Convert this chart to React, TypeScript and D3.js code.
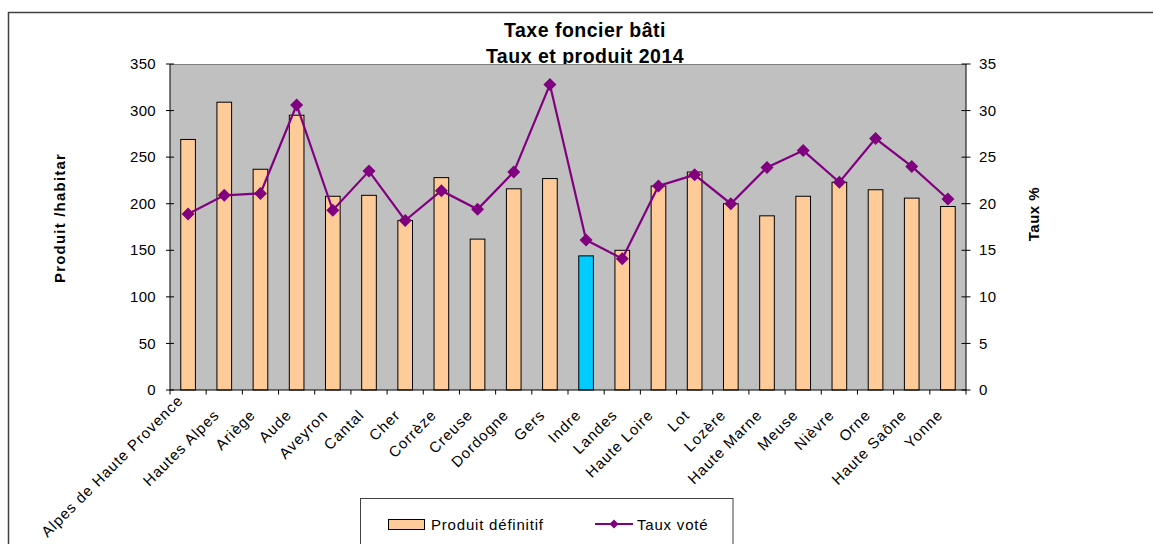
import React from "react";
import * as d3 from "d3";

const categories = [
  "Alpes de Haute Provence", "Hautes Alpes", "Ariège", "Aude", "Aveyron", "Cantal",
  "Cher", "Corrèze", "Creuse", "Dordogne", "Gers", "Indre", "Landes", "Haute Loire",
  "Lot", "Lozère", "Haute Marne", "Meuse", "Nièvre", "Orne", "Haute Saône", "Yonne",
];
const produitDefinitif = [269, 309, 237, 295, 208, 209, 182, 228, 162, 216, 227, 144, 150, 219, 234, 200, 187, 208, 223, 215, 206, 197];
const tauxVote = [18.9, 20.9, 21.1, 30.6, 19.3, 23.5, 18.2, 21.4, 19.4, 23.4, 32.8, 16.1, 14.1, 21.9, 23.1, 20.0, 23.9, 25.7, 22.3, 27.0, 24.0, 20.5];
const highlighted = "Indre";
const leftTicks = [0, 50, 100, 150, 200, 250, 300, 350];
const rightTicks = [0, 5, 10, 15, 20, 25, 30, 35];
const titleLines = ["Taxe foncier bâti", "Taux et produit 2014"];
const leftTitle = "Produit /habitar";
const rightTitle = "Taux %";
const seriesNames = ["Produit définitif", "Taux voté"];

const FONT = "'Liberation Sans', Arial, sans-serif";
const BAR = "#FFCC99";
const HI = "#00CCFF";
const LINE = "#800080";

const LABEL_SIZE = 15;
const LABEL_LS = 1.0;

function measure(text: string, size: number, ls: number): number {
  try {
    const ctx = document.createElement("canvas").getContext("2d");
    if (ctx) {
      ctx.font = `${size}px 'Liberation Sans', Arial, sans-serif`;
      return ctx.measureText(text).width + ls * text.length;
    }
  } catch (e) {}
  return text.length * size * 0.5;
}

export default function App() {
  const L = 170, R = 966, T = 64, B = 390;
  const x = d3.scaleBand<string>().domain(categories).range([L, R]).paddingInner(0).paddingOuter(0);
  const yL = d3.scaleLinear().domain([0, 350]).range([B, T]);
  const yR = d3.scaleLinear().domain([0, 35]).range([B, T]);
  const bw = x.bandwidth() * 0.405;
  const cx = (c: string) => (x(c) as number) + x.bandwidth() / 2;
  const line = d3.line<number>().x((_, i) => cx(categories[i])).y((d) => yR(d));
  const diamond = (px: number, py: number, r: number) =>
    `M${px},${py - r}L${px + r},${py}L${px},${py + r}L${px - r},${py}Z`;
  const boundaries = d3.range(categories.length + 1).map((i) => L + i * x.bandwidth());

  const labelPos = (c: string) => {
    const ax = cx(c) - 4;
    let ay = 416;
    const len = measure(c, LABEL_SIZE, LABEL_LS);
    const bottom = ay + len * Math.SQRT1_2;
    if (bottom > 538) ay -= bottom - 538;
    return [ax, ay];
  };

  return (
    <svg width={1153} height={544} style={{ position: "absolute", left: 0, top: 0, background: "#fff" }} fontFamily={FONT}>
      {/* outer frame */}
      <rect x={8.5} y={12.5} width={1200} height={600} fill="#fff" stroke="#404040" strokeWidth={1.5} />

      {/* title */}
      {titleLines.map((t, i) => (
        <text key={t} x={585} y={37 + i * 25.5} textAnchor="middle" fontSize={19.5} fontWeight="bold" letterSpacing={0.5} fill="#000">
          {t}
        </text>
      ))}

      {/* plot area */}
      <rect x={L} y={T} width={R - L} height={B - T} fill="#C0C0C0" />
      <line x1={L} x2={R} y1={T + 0.5} y2={T + 0.5} stroke="#808080" strokeWidth={1} />

      {/* bars */}
      {categories.map((c, i) => (
        <rect
          key={c}
          x={cx(c) - bw / 2}
          y={yL(produitDefinitif[i])}
          width={bw}
          height={B - yL(produitDefinitif[i])}
          fill={c === highlighted ? HI : BAR}
          stroke="#000"
          strokeWidth={1}
        />
      ))}

      {/* line */}
      <path d={line(tauxVote) || ""} fill="none" stroke={LINE} strokeWidth={2.2} />
      {tauxVote.map((v, i) => (
        <path key={i} d={diamond(cx(categories[i]), yR(v), 6.5)} fill={LINE} />
      ))}

      {/* axes */}
      <line x1={L} x2={L} y1={T} y2={B} stroke="#000" />
      <line x1={R} x2={R} y1={T} y2={B} stroke="#000" />
      <line x1={L} x2={R} y1={B} y2={B} stroke="#000" />
      {boundaries.map((b, i) => (
        <line key={i} x1={b} x2={b} y1={B} y2={B + 4.5} stroke="#000" />
      ))}
      {leftTicks.map((t) => (
        <g key={t}>
          <line x1={L - 4} x2={L + 4} y1={yL(t)} y2={yL(t)} stroke="#000" />
          <text x={156} y={yL(t) + 5.2} textAnchor="end" fontSize={15} letterSpacing={0.3} fill="#000">{t}</text>
        </g>
      ))}
      {rightTicks.map((t) => (
        <g key={t}>
          <line x1={R - 4.5} x2={R + 4.5} y1={yR(t)} y2={yR(t)} stroke="#000" />
          <text x={979} y={yR(t) + 5.2} textAnchor="start" fontSize={15} letterSpacing={0.3} fill="#000">{t}</text>
        </g>
      ))}

      {/* category labels */}
      {categories.map((c) => {
        const [ax, ay] = labelPos(c);
        return (
          <text
            key={c}
            transform={`translate(${ax},${ay}) rotate(-45)`}
            textAnchor="end"
            fontSize={LABEL_SIZE}
            letterSpacing={LABEL_LS}
            fill="#000"
          >
            {c}
          </text>
        );
      })}

      {/* axis titles */}
      <text transform={`translate(65,218) rotate(-90)`} textAnchor="middle" fontSize={15} fontWeight="bold" letterSpacing={1.2} fill="#000">
        {leftTitle}
      </text>
      <text transform={`translate(1039,214) rotate(-90)`} textAnchor="middle" fontSize={15} fontWeight="bold" letterSpacing={0.5} fill="#000">
        {rightTitle}
      </text>

      {/* legend */}
      <rect x={360.5} y={498.5} width={372.5} height={100} fill="#fff" stroke="#404040" strokeWidth={1} />
      <rect x={388.5} y={519.5} width={36} height={10} fill={BAR} stroke="#000" strokeWidth={1} />
      <text x={431} y={529.5} fontSize={15} letterSpacing={0.8} fill="#000">{seriesNames[0]}</text>
      <line x1={595} x2={633} y1={524} y2={524} stroke={LINE} strokeWidth={2} />
      <path d={diamond(614, 524, 4.5)} fill={LINE} />
      <text x={637} y={529.5} fontSize={15} letterSpacing={0.8} fill="#000">{seriesNames[1]}</text>
    </svg>
  );
}
